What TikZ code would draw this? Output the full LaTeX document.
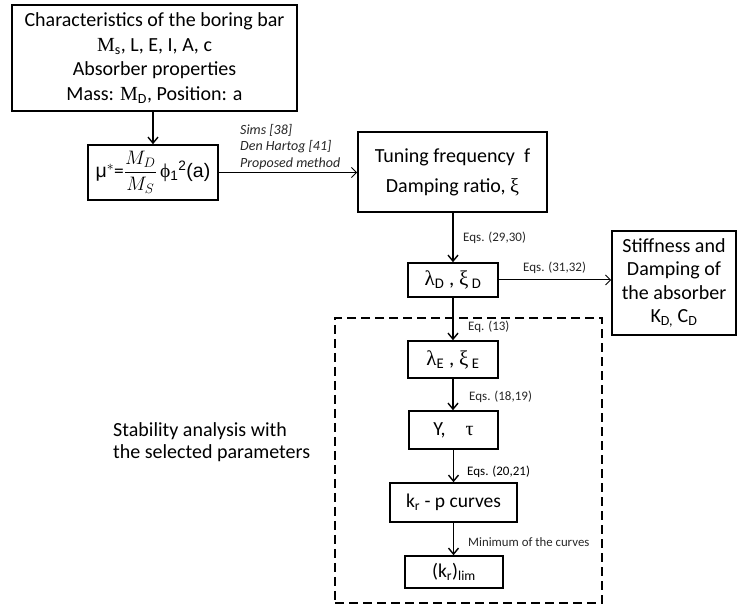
\documentclass[tikz,border=0pt]{standalone}
\usepackage{amsmath}
\usepackage{fix-cm}
\usepackage{fontspec}
\setmainfont{Carlito}
\newfontfamily\serifgr{Liberation Serif}
\newfontfamily\arialf{Liberation Sans}
\usetikzlibrary{arrows.meta}
\begin{document}
\begin{tikzpicture}[x=1pt,y=-1pt,
  box/.style={draw,line width=1.6pt,inner sep=0pt,align=center,font=\fontsize{20}{24.5}\selectfont},
  lbl/.style={anchor=west,inner sep=0pt,font=\fontsize{13}{15}\selectfont,text=black!85},
  arr/.style={line width=1.6pt,-{Straight Barb[length=6pt,width=10pt,line width=1.4pt]}},
  harr/.style={line width=1pt,-{Straight Barb[length=5pt,width=10pt,line width=1pt]}}]
\useasboundingbox (0,0) rectangle (737,609);
\node[box,minimum width=285pt,minimum height=106pt] (top) at (154.5,58)
  {Characteristics of the boring bar\\{\serifgr M}\textsubscript{s}, L, E, I, A, c\\Absorber properties\\Mass: {\serifgr M}\textsubscript{D}, Position: a};
\node[box,minimum width=130pt,minimum height=55pt,font=\fontsize{19.5}{24}\selectfont] (mu) at (153,172.5)
  {{\arialf μ}$^{*}$=$\dfrac{M_D}{M_S}$\,{\serifgr ϕ}{\arialf\textsubscript{1}\textsuperscript{2}(a)}};
\node[box,minimum width=189pt,minimum height=80pt,font=\fontsize{20}{30}\selectfont] (tune) at (452.5,172)
  {Tuning frequency\ \ f\\Damping ratio, {\serifgr ξ}};
\node[box,minimum width=90pt,minimum height=34pt,font=\fontsize{21}{24}\selectfont] (lamD) at (453,280)
  {{\serifgr λ}\textsubscript{D} , {\serifgr ξ}\,\textsubscript{D}};
\node[box,minimum width=124pt,minimum height=104pt,font=\fontsize{20}{23.3}\selectfont] (stiff) at (674,283)
  {Stiffness and\\Damping of\\the absorber\\K\textsubscript{D,} C\textsubscript{D}};
\node[box,minimum width=90pt,minimum height=37pt,font=\fontsize{21}{24}\selectfont] (lamE) at (453,359.5)
  {{\serifgr λ}\textsubscript{E} , {\serifgr ξ}\,\textsubscript{E}};
\node[box,minimum width=89pt,minimum height=38pt] (Y) at (453.5,430)
  {Y,\quad{\serifgr τ}};
\node[box,minimum width=127pt,minimum height=39pt,font=\fontsize{19.5}{24}\selectfont] (kr) at (453.5,502.5)
  {k\textsubscript{r} - p curves};
\node[box,minimum width=98pt,minimum height=32pt,font=\fontsize{19.5}{24}\selectfont] (lim) at (454,572)
  {(k\textsubscript{r})\textsubscript{lim}};
\node[anchor=west,inner sep=0pt,align=left,font=\fontsize{20}{22}\selectfont] (stab) at (113,442.5)
  {Stability analysis with\\the selected parameters};
\node[draw,line width=2.4pt,dash pattern=on 9pt off 5pt,minimum width=267pt,minimum height=285pt,inner sep=0pt] (dash) at (468.5,460.5) {};
\node[anchor=north west,inner sep=0pt,align=left,font=\fontsize{14}{16.5}\itshape,text=black!85] (meth) at (240,124)
  {Sims [38]\\Den Hartog [41]\\Proposed method};
\draw[arr] (top.south -| mu.north) -- (mu.north);
\draw[harr] (mu.east) -- (mu.east -| tune.west);
\draw[arr] (lamD.north |- tune.south) -- (lamD.north);
\draw[harr] (lamD.east) -- (lamD.east -| stiff.west);
\draw[arr] (lamD.south) -- (lamE.north);
\draw[arr] (lamE.south) -- (lamE.south |- Y.north);
\draw[arr] (Y.south) -- (Y.south |- kr.north);
\draw[arr] (kr.south) -- (kr.south |- lim.north);
\node[lbl] (e1) at (463,238) {Eqs. (29,30)};
\node[lbl] (e2) at (523,268) {Eqs. (31,32)};
\node[lbl] (e3) at (468,327) {Eq. (13)};
\node[lbl] (e4) at (469,397) {Eqs. (18,19)};
\node[lbl,text=black] (e5) at (467,472) {Eqs. (20,21)};
\node[lbl,font=\fontsize{12.8}{15}\selectfont] (e6) at (468,542) {Minimum of the curves};
\end{tikzpicture}
\end{document}
